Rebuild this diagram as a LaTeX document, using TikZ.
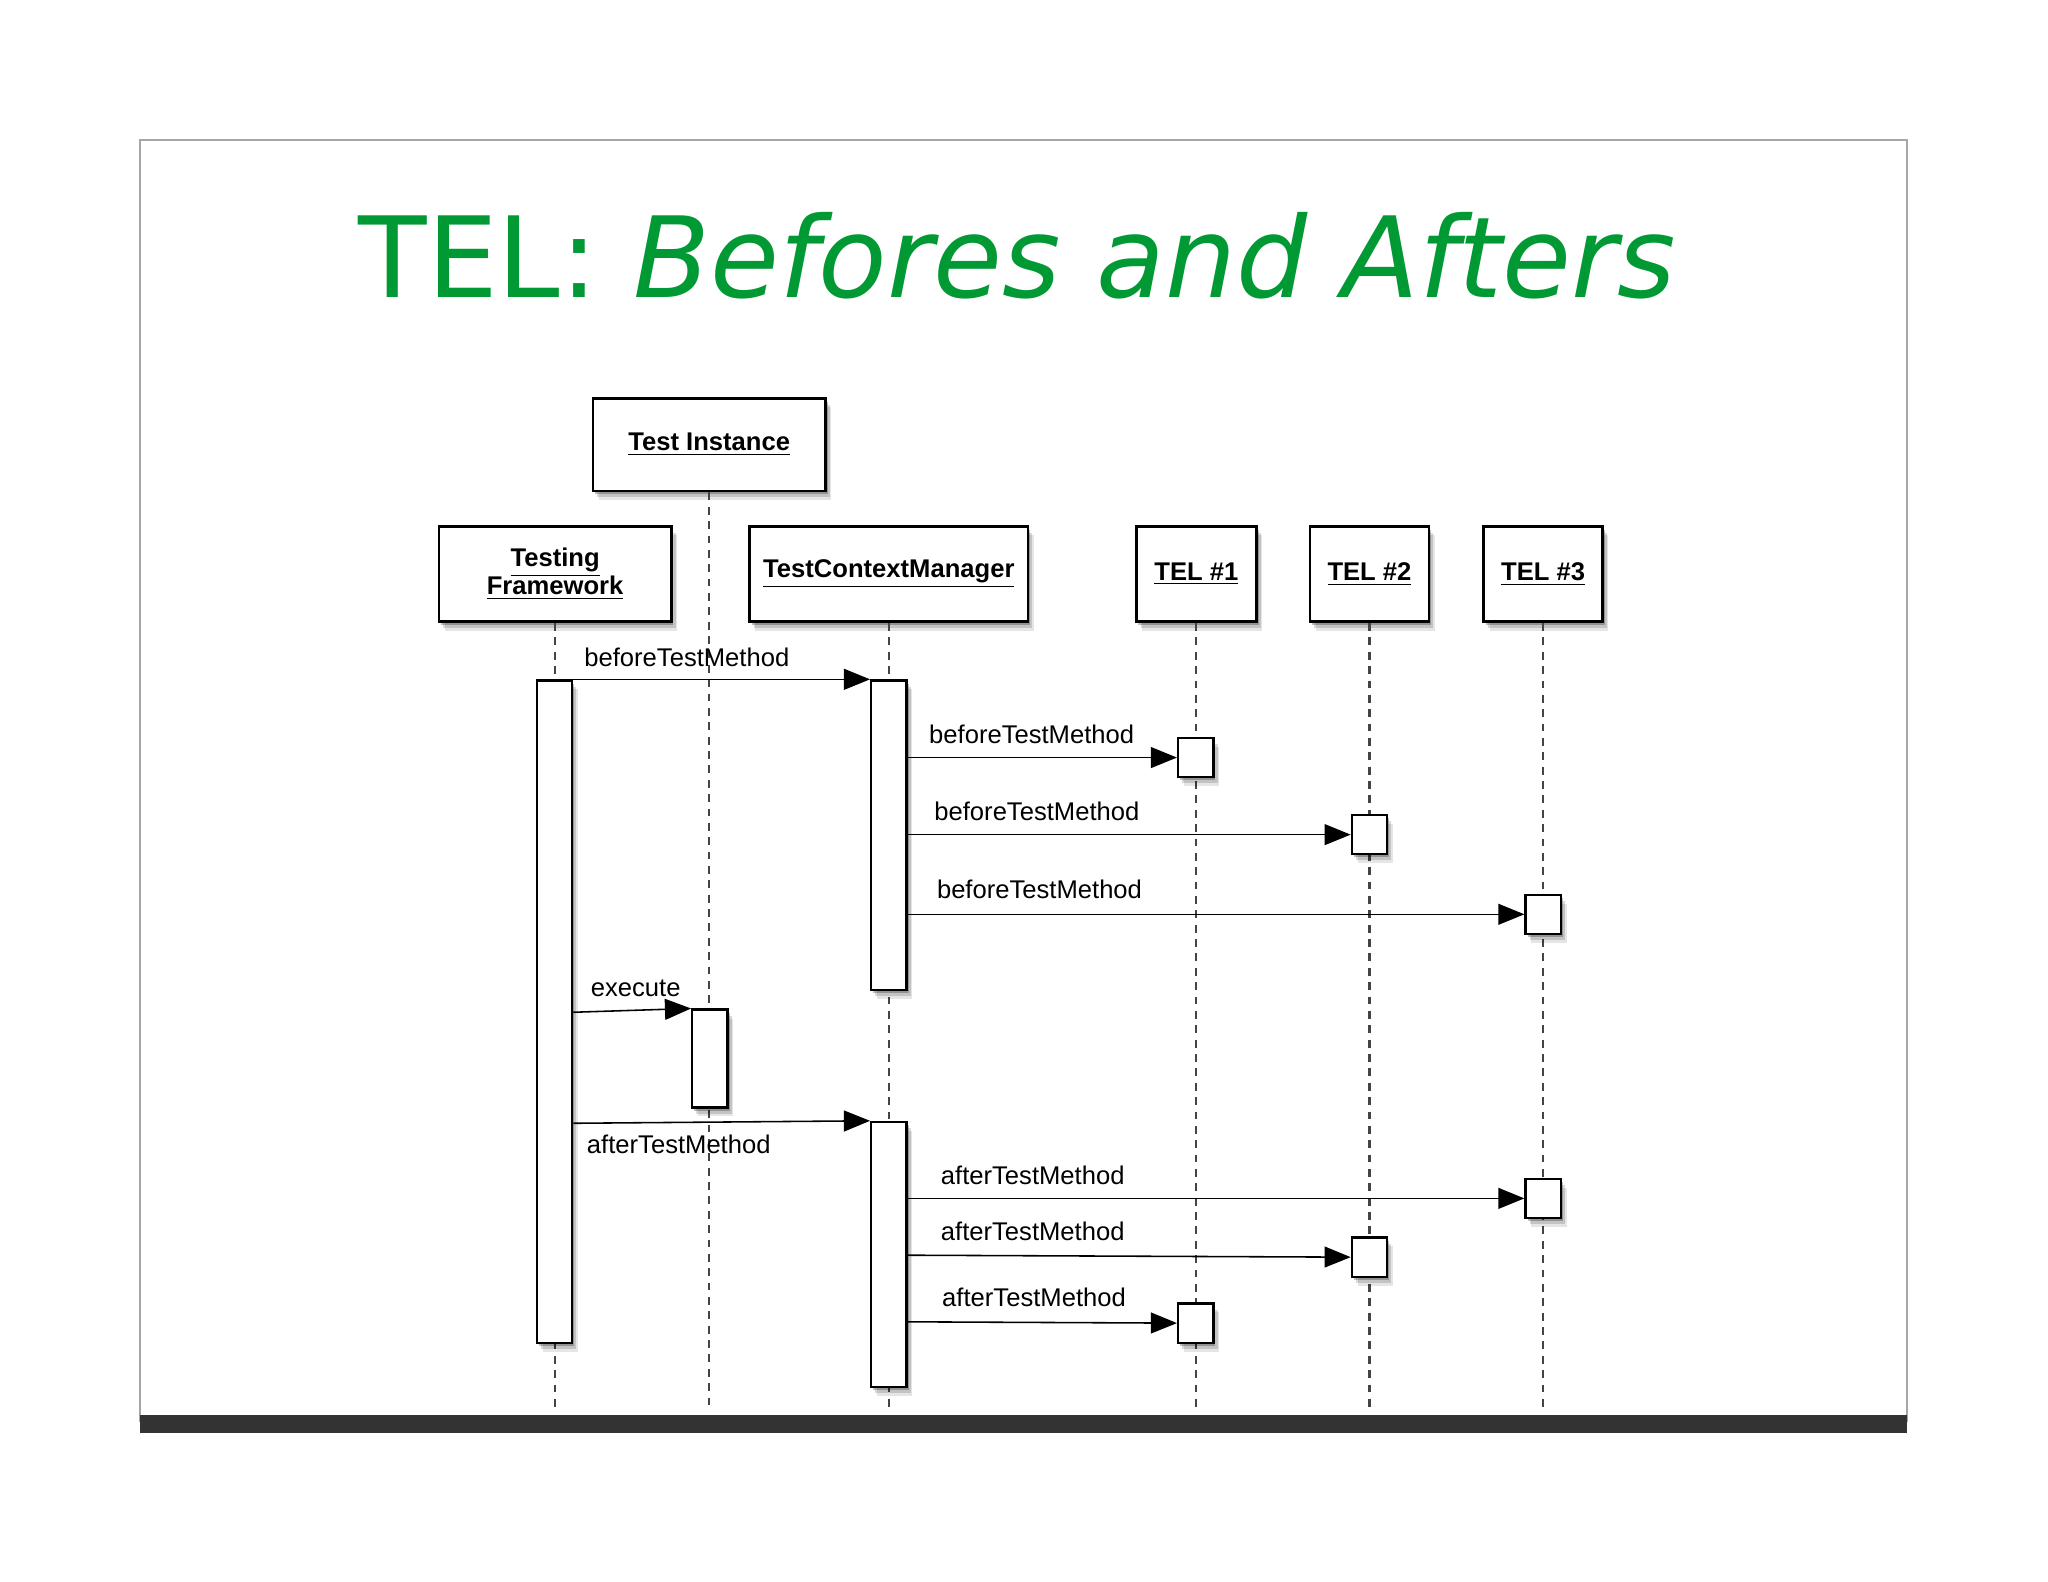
\documentclass[tikz,border=0pt]{standalone}
\usepackage{fontspec}
\setmainfont{Liberation Sans}
\newfontfamily\titlefont{DejaVu Sans}
\usetikzlibrary{shadows,arrows.meta}
\definecolor{titlegreen}{HTML}{009933}
\definecolor{barcol}{HTML}{333333}
\definecolor{lifecol}{HTML}{444444}
\tikzset{
  shad/.style={drop shadow={shadow xshift=2.2pt, shadow yshift=-3.4pt, opacity=0.10, fill=black},
               drop shadow={shadow xshift=1.6pt, shadow yshift=-2.4pt, opacity=0.15, fill=black},
               drop shadow={shadow xshift=0.8pt, shadow yshift=-1.2pt, opacity=0.25, fill=black}},
  headbox/.style={draw=black, line width=1pt, fill=white, shad, inner sep=0pt,
                  minimum height=36.5pt, align=center, font=\fontsize{9.8}{11.5}\selectfont\bfseries},
  actbox/.style={draw=black, line width=0.9pt, fill=white, shad, inner sep=0pt, minimum width=13.5pt},
  telbox/.style={draw=black, line width=0.9pt, fill=white, shad, inner sep=0pt, minimum width=13.5pt, minimum height=15pt},
  lifeline/.style={draw=lifecol, line width=0.8pt, dash pattern=on 3pt off 2.5pt},
  msg/.style={draw=black, line width=0.6pt, -{Triangle[length=10pt,width=8pt]}},
  lbl/.style={font=\fontsize{9.8}{11}\selectfont, inner sep=0pt, anchor=base west},
}
\newcommand{\ul}[1]{\raisebox{-1.5pt}{\underline{#1}}}
\begin{document}
\begin{tikzpicture}[x=0.5pt,y=-0.5pt]
\useasboundingbox (0,0) rectangle (1568,1211);
% frame
\draw[draw=gray!70, line width=0.6pt] (107,107) rectangle (1460,1088);
\fill[barcol] (107,1083) rectangle (1460,1097);
% title
\node[anchor=base, inner sep=0pt, text=titlegreen, font=\fontsize{42.9}{50}\selectfont\titlefont] (title) at (779,228) {TEL: \itshape Befores and Afters};
% headers
\node[headbox, minimum width=89pt, minimum height=35.5pt] (TI) at (543,340.5) {\ul{Test Instance}};
\node[headbox, minimum width=89pt] (TF) at (425,439.5) {\underline{Testing}\\[-0.5pt]\underline{Framework}};
\node[headbox, minimum width=106.5pt] (TCM) at (680.5,439.5) {\ul{TestContextManager}};
\node[headbox, minimum width=46pt] (T1) at (916,439.5) {\ul{TEL \#1}};
\node[headbox, minimum width=45.5pt] (T2) at (1048.5,439.5) {\ul{TEL \#2}};
\node[headbox, minimum width=45.5pt] (T3) at (1181.5,439.5) {\ul{TEL \#3}};
% lifeline ends
\coordinate (TIend) at (543,1080);
\coordinate (TFend) at (425,1080);
\coordinate (TCMend) at (680.5,1080);
\coordinate (T1end) at (916,1080);
\coordinate (T2end) at (1048.5,1080);
\coordinate (T3end) at (1181.5,1080);
\draw[lifeline] (TI.south) -- (TIend);
\draw[lifeline] (TF.south) -- (TFend);
\draw[lifeline] (TCM.south) -- (TCMend);
\draw[lifeline] (T1.south) -- (T1end);
\draw[lifeline] (T2.south) -- (T2end);
\draw[lifeline] (T3.south) -- (T3end);
% activations
\node[actbox, minimum height=253.5pt] (aTF) at (424.5,774.5) {};
\node[actbox, minimum height=118.5pt] (aTCM1) at (680.5,639.5) {};
\node[actbox, minimum height=101.5pt] (aTCM2) at (680.5,960.5) {};
\node[actbox, minimum height=37.5pt] (aTI) at (543.5,810.5) {};
\node[telbox] (b1) at (915.5,580) {};
\node[telbox] (b2) at (1048.5,639) {};
\node[telbox] (b3) at (1181.5,700) {};
\node[telbox] (c3) at (1181.5,917.5) {};
\node[telbox] (c2) at (1048.5,962.5) {};
\node[telbox] (c1) at (915.5,1013) {};
% messages
\draw[msg] (aTF.north east) -- (aTCM1.north west);
\node[lbl] (l0) at (447,510) {beforeTestMethod};
\draw[msg] (aTCM1.east |- b1.west) -- (b1.west);
\node[lbl] (l1) at (711,569) {beforeTestMethod};
\draw[msg] (aTCM1.east |- b2.west) -- (b2.west);
\node[lbl] (l2) at (715,628) {beforeTestMethod};
\draw[msg] (aTCM1.east |- b3.west) -- (b3.west);
\node[lbl] (l3) at (717,688) {beforeTestMethod};
\coordinate (ex0) at (aTF.east |- 0,775);
\draw[msg] (ex0) -- (aTI.north west);
\node[lbl] (l4) at (452,763) {execute};
\coordinate (af0) at (aTF.east |- 0,860);
\draw[msg] (af0) -- (aTCM2.north west);
\node[lbl] (l5) at (449,883) {afterTestMethod};
\draw[msg] (aTCM2.east |- c3.west) -- (c3.west);
\node[lbl] (l6) at (720,907) {afterTestMethod};
\coordinate (c2s) at (aTCM2.east |- 0,961);
\draw[msg] (c2s) -- (c2.west);
\node[lbl] (l7) at (720,950) {afterTestMethod};
\coordinate (c1s) at (aTCM2.east |- 0,1012);
\draw[msg] (c1s) -- (c1.west);
\node[lbl] (l8) at (721,1000) {afterTestMethod};
\end{tikzpicture}
\end{document}
